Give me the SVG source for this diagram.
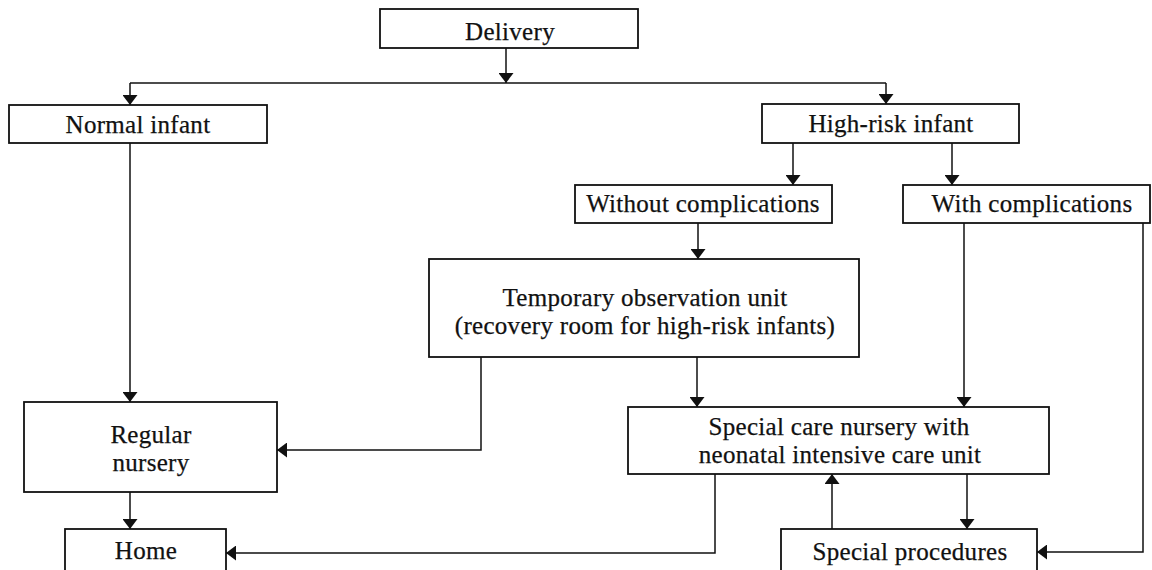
<svg xmlns="http://www.w3.org/2000/svg" width="1152" height="570" viewBox="0 0 1152 570">
<defs>
<style>
.box{fill:#fff;stroke:#111;stroke-width:1.8}
.t{font-family:"Liberation Serif","Times New Roman",serif;font-size:25px;fill:#111;stroke:#111;stroke-width:0.25;text-anchor:middle;letter-spacing:0.3px}
.c{fill:none;stroke:#111;stroke-width:1.5}
</style>
<marker id="ah" markerUnits="userSpaceOnUse" markerWidth="10" markerHeight="15" refX="10" refY="7.5" orient="auto">
<path d="M0,0 L10,7.5 L0,15 z" fill="#111"/>
</marker>
</defs>
<rect width="1152" height="570" fill="#fff"/>
<g id="connectors">
<path class="c" d="M506,48 V83" marker-end="url(#ah)"/>
<path class="c" d="M130,83 H886"/>
<path class="c" d="M130,83 V105" marker-end="url(#ah)"/>
<path class="c" d="M886,83 V104" marker-end="url(#ah)"/>
<path class="c" d="M793,143 V185" marker-end="url(#ah)"/>
<path class="c" d="M952,143 V185" marker-end="url(#ah)"/>
<path class="c" d="M130,143 V402" marker-end="url(#ah)"/>
<path class="c" d="M698,223 V259" marker-end="url(#ah)"/>
<path class="c" d="M481,357 V450 H277" marker-end="url(#ah)"/>
<path class="c" d="M697,357 V407" marker-end="url(#ah)"/>
<path class="c" d="M964,223 V407" marker-end="url(#ah)"/>
<path class="c" d="M1143,223 V552 H1037" marker-end="url(#ah)"/>
<path class="c" d="M130,492 V529" marker-end="url(#ah)"/>
<path class="c" d="M715,474 V553 H226" marker-end="url(#ah)"/>
<path class="c" d="M832,529 V474" marker-end="url(#ah)"/>
<path class="c" d="M967,474 V529" marker-end="url(#ah)"/>
</g>
<g id="delivery"><rect class="box" x="380" y="9" width="258" height="39"/><text class="t" x="510" y="40">Delivery</text></g>
<g id="normal"><rect class="box" x="9" y="105" width="258" height="38"/><text class="t" x="138" y="133">Normal infant</text></g>
<g id="highrisk"><rect class="box" x="762" y="104" width="257" height="39"/><text class="t" x="891" y="132">High-risk infant</text></g>
<g id="without"><rect class="box" x="575" y="185" width="257" height="38"/><text class="t" x="703" y="212">Without complications</text></g>
<g id="with"><rect class="box" x="903" y="185" width="247" height="38"/><text class="t" x="1032" y="212">With complications</text></g>
<g id="temporary"><rect class="box" x="429" y="259" width="430" height="98"/><text class="t" x="645" y="306">Temporary observation unit</text><text class="t" x="645" y="334">(recovery room for high-risk infants)</text></g>
<g id="regular"><rect class="box" x="24" y="402" width="253" height="90"/><text class="t" x="151" y="443">Regular</text><text class="t" x="151" y="471">nursery</text></g>
<g id="special"><rect class="box" x="628" y="407" width="421" height="67"/><text class="t" x="839" y="435">Special care nursery with</text><text class="t" x="840" y="463">neonatal intensive care unit</text></g>
<g id="home"><rect class="box" x="65" y="529" width="161" height="50"/><text class="t" x="146" y="559">Home</text></g>
<g id="procedures"><rect class="box" x="781" y="529" width="256" height="50"/><text class="t" x="910" y="560">Special procedures</text></g>
</svg>
